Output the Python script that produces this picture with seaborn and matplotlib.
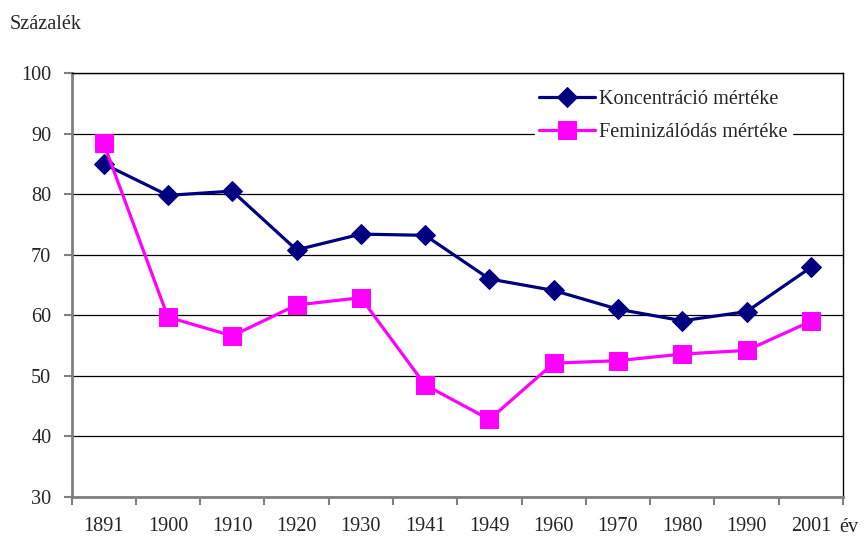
import matplotlib
matplotlib.use("Agg")
import matplotlib.pyplot as plt
import seaborn as sns
import pandas as pd
import numpy as np

years = ["1891", "1900", "1910", "1920", "1930", "1941", "1949",
         "1960", "1970", "1980", "1990", "2001"]
koncentracio = [85.0, 79.8, 80.5, 70.8, 73.4, 73.2, 66.0, 64.1, 61.0, 59.1, 60.6, 67.9]
feminizalodas = [88.4, 59.7, 56.6, 61.7, 62.9, 48.5, 42.8, 52.1, 52.5, 53.6, 54.2, 59.0]

sns.set_style("white")
plt.rcParams["font.family"] = ["Liberation Serif", "DejaVu Serif"]
FS = 14.6
W, H = 866, 537

df = pd.DataFrame({"pos": np.arange(len(years)),
                   "kon": koncentracio,
                   "fem": feminizalodas})

fig = plt.figure(figsize=(W / 100, H / 100), dpi=100)
ax = fig.add_axes([71.5 / W, 1 - 497 / H, 771.5 / W, 424 / H])

sns.lineplot(data=df, x="pos", y="kon", ax=ax, color="#000080", lw=2.3,
             marker="D", markersize=10.5, markeredgecolor="#000080",
             label="Koncentráció mértéke", zorder=3)
sns.lineplot(data=df, x="pos", y="fem", ax=ax, color="#FF00FF", lw=2.3,
             marker="s", markersize=12.5, markeredgecolor="#FF00FF",
             label="Feminizálódás mértéke", zorder=3)

ax.set_ylim(30, 100)
ax.set_xlim(-0.5, len(years) - 0.5)
ax.set_yticks(range(30, 101, 10))
ax.set_yticklabels([str(v) for v in range(30, 101, 10)], fontsize=FS)
ax.yaxis.grid(True, color="black", lw=0.9)
ax.set_axisbelow(True)

# ticks between categories, labels at centres
ax.set_xticks(np.arange(-0.5, len(years), 1.0))
ax.set_xticklabels([])
ax.set_xticks(np.arange(len(years)), minor=True)
ax.set_xticklabels(years, minor=True, fontsize=FS)
ax.tick_params(axis="x", which="major", direction="out", length=6, width=1.5,
               color="#808080", bottom=True)
ax.tick_params(axis="x", which="minor", length=0, pad=14.5)
ax.tick_params(axis="y", direction="out", length=6, width=1.5,
               color="#808080", left=True, pad=8.5)

for side in ["left", "bottom"]:
    ax.spines[side].set_color("#808080")
    ax.spines[side].set_linewidth(2)
for side in ["top", "right"]:
    ax.spines[side].set_color("black")
    ax.spines[side].set_linewidth(1)

ax.set_xlabel("")
ax.set_ylabel("")

leg = ax.legend(loc="upper left", bbox_to_anchor=(525 / W, 1 - 76 / H),
                bbox_transform=fig.transFigure, frameon=True,
                fontsize=FS, handlelength=2.75, borderpad=0.2, labelspacing=0.65,
                handletextpad=0.2)
leg.get_frame().set_edgecolor("white")
leg.get_frame().set_facecolor("white")
leg.get_frame().set_alpha(1)
leg.get_frame().set_boxstyle("square", pad=0)

fig.text(10 / W, 1 - 29 / H, "Százalék", fontsize=FS, va="baseline", ha="left")
fig.text(839 / W, 1 - 532 / H, "év", fontsize=FS, va="baseline", ha="left")

fig.savefig("out.png", dpi=100)
